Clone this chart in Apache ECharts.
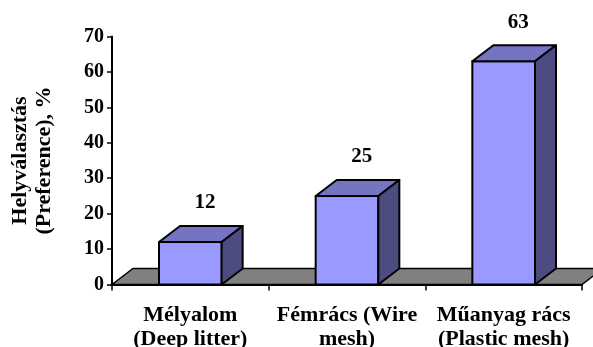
<!DOCTYPE html>
<html>
<head>
<meta charset="utf-8">
<script src="https://cdn.jsdelivr.net/npm/echarts@6/dist/echarts.min.js"></script>
<style>
  html, body { margin: 0; padding: 0; background: #ffffff; }
  #chart { width: 593px; height: 347px; }
</style>
</head>
<body>
<div id="chart"></div>
<script>
// Place preference by floor type
const categories = ['Mélyalom\n(Deep litter)', 'Fémrács (Wire\nmesh)', 'Műanyag rács\n(Plastic mesh)'];
const preference = [12, 25, 63];
const valueMin = 0;
const valueMax = 70;
const valueStep = 10;
const axisTitle = 'Helyválasztás\n(Preference), %';

const FONT = "'Times New Roman', 'Liberation Serif', serif";
// depth offset of the pseudo-3D boxes and floor
const DX = 21, DY = 16;
const FRONT = '#9999FF', TOP = '#7474C2', SIDE = '#4C4C80';
const EDGE = { stroke: '#000', lineWidth: 2 };

function renderBar(params, api) {
  const i = api.value(0), v = api.value(1);
  const base = api.coord([i, 0]);
  const top = api.coord([i, v]);
  const band = api.size([1, 0])[0];
  const w = band * 0.4;
  const x0 = base[0] - w / 2, x1 = base[0] + w / 2;
  const y0 = base[1], y1 = top[1];
  return {
    type: 'group',
    children: [
      { type: 'polygon', shape: { points: [[x0, y0], [x0, y1], [x1, y1], [x1, y0]] },
        style: Object.assign({ fill: FRONT, lineJoin: 'round' }, EDGE) },
      { type: 'polygon', shape: { points: [[x0, y1], [x0 + DX, y1 - DY], [x1 + DX, y1 - DY], [x1, y1]] },
        style: Object.assign({ fill: TOP, lineJoin: 'round' }, EDGE) },
      { type: 'polygon', shape: { points: [[x1, y1], [x1 + DX, y1 - DY], [x1 + DX, y0 - DY], [x1, y0]] },
        style: Object.assign({ fill: SIDE, lineJoin: 'round' }, EDGE) },
      { type: 'text',
        style: { x: base[0] + DX * 0.7, y: y1 - DY - 23, text: String(v),
                 font: 'bold 21px ' + FONT, fill: '#000', align: 'center', verticalAlign: 'middle' } }
    ]
  };
}

function renderFloor(params, api) {
  const cs = params.coordSys;
  const xl = cs.x, xr = cs.x + cs.width, yb = cs.y + cs.height;
  return {
    type: 'polygon',
    shape: { points: [[xl, yb], [xl + DX, yb - DY], [xr + DX, yb - DY], [xr, yb]] },
    style: { fill: '#808080', stroke: '#000', lineWidth: 1.5 }
  };
}

const chart = echarts.init(document.getElementById('chart'), null, { renderer: 'canvas' });
chart.setOption({
  backgroundColor: '#ffffff',
  animation: false,
  grid: { left: 112, right: 11, top: 36.5, bottom: 62.5, containLabel: false, outerBoundsMode: 'none' },
  xAxis: {
    type: 'category',
    data: categories,
    boundaryGap: true,
    axisLine: { lineStyle: { color: '#000', width: 2 } },
    axisTick: { show: true, alignWithLabel: false, length: 6, lineStyle: { color: '#000', width: 1.5 } },
    axisLabel: { color: '#000', fontFamily: FONT, fontWeight: 'bold', fontSize: 22, lineHeight: 24, margin: 19, interval: 0 },
    splitLine: { show: false }
  },
  yAxis: {
    type: 'value',
    min: valueMin, max: valueMax, interval: valueStep,
    name: axisTitle,
    nameLocation: 'middle',
    nameRotate: 90,
    nameGap: 56,
    nameTextStyle: { color: '#000', fontFamily: FONT, fontWeight: 'bold', fontSize: 22, lineHeight: 24 },
    axisLine: { show: true, lineStyle: { color: '#000', width: 2 } },
    axisTick: { show: true, length: 5, lineStyle: { color: '#000', width: 1.5 } },
    axisLabel: { color: '#000', fontFamily: FONT, fontWeight: 'bold', fontSize: 20, margin: 8 },
    splitLine: { show: false }
  },
  series: [
    { type: 'custom', z: 1, silent: true, renderItem: renderFloor, data: [[0, 0]] },
    { type: 'custom', z: 2, renderItem: renderBar, data: preference.map((v, i) => [i, v]) }
  ]
});
</script>
</body>
</html>
